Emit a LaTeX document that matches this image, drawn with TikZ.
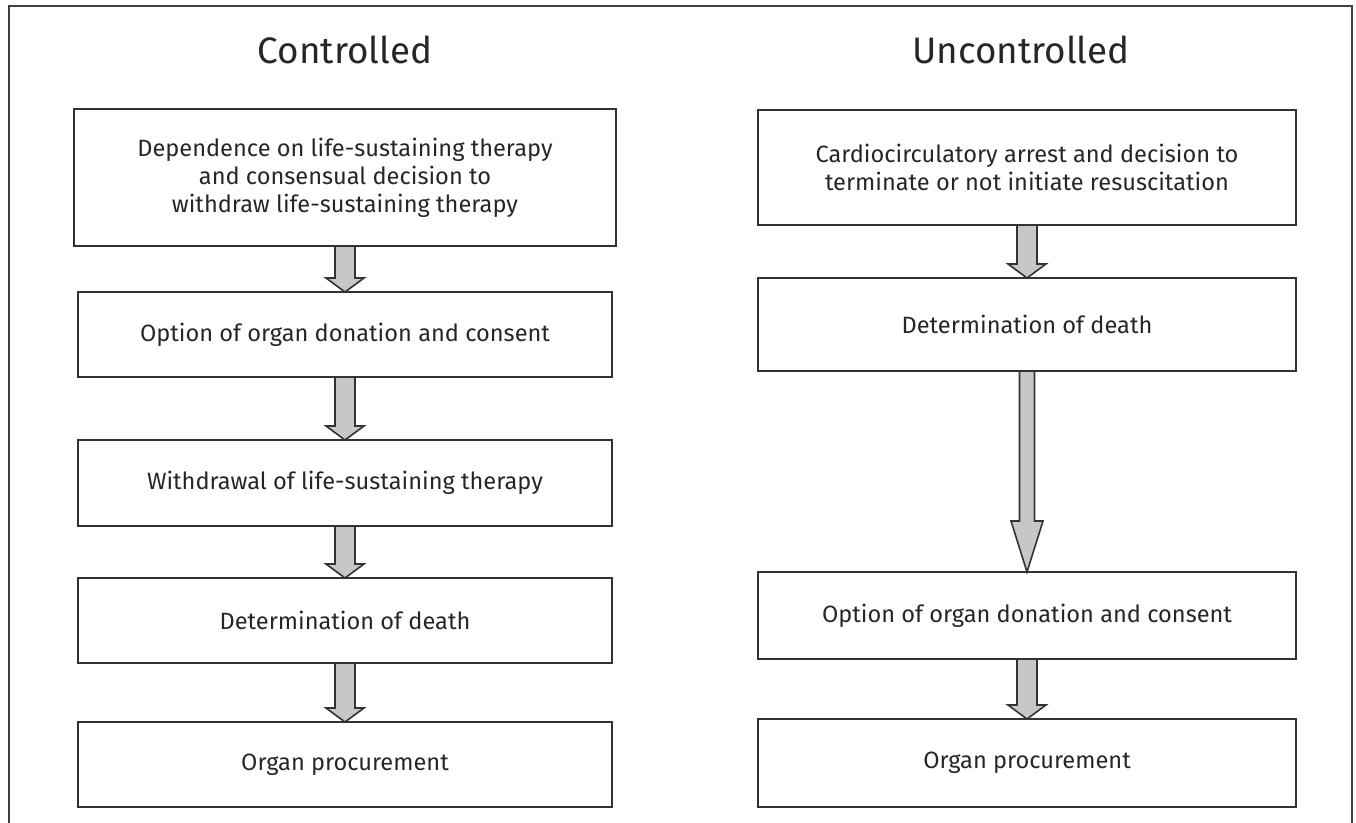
\documentclass[tikz,border=0pt]{standalone}
\usepackage{fontspec}
\setmainfont{Fira Sans}
\usetikzlibrary{calc}
\begin{document}
\begin{tikzpicture}[x=0.5pt,y=-0.5pt,
  box/.style={draw=black!80,line width=0.9pt,inner sep=0pt,outer sep=0pt,
    minimum width=267pt,minimum height=42.5pt,align=center,
    font=\fontsize{11.8}{14}\selectfont,text=black!85},
  title/.style={font=\fontsize{18.4}{22}\selectfont,text=black!85},
  blockarrow/.style={draw=black!80,line width=0.8pt,fill=black!22,line join=miter}]
\useasboundingbox (0,0) rectangle (1356,823);
\draw[black!75,line width=0.7pt] (9,823) -- (9,6) -- (1352,6) -- (1352,823); % frame, open at the bottom
\node[title] (tc) at (345,50) {Controlled};
\node[title] (tu) at (1021,50) {Uncontrolled};
% controlled
\node[box,minimum width=271pt,minimum height=68.5pt] (c1) at (345,177.5)
  {Dependence on life-sustaining therapy\\and consensual decision to\\withdraw life-sustaining therapy};
\node[box] (c2) at (345,334.5) {Option of organ donation and consent};
\node[box,minimum height=43pt] (c3) at (345,483) {Withdrawal of life-sustaining therapy};
\node[box] (c4) at (345,620.5) {Determination of death};
\node[box] (c5) at (345,764.5) {Organ procurement};
% uncontrolled
\node[box,minimum width=269pt,minimum height=57.5pt] (u1) at (1027,167.5)
  {Cardiocirculatory arrest and decision to\\terminate or not initiate resuscitation};
\node[box,minimum width=269pt,minimum height=46.5pt] (u2) at (1027,324.5) {Determination of death};
\node[box,minimum width=269pt,minimum height=43.5pt] (u3) at (1027,615.5) {Option of organ donation and consent};
\node[box,minimum width=269pt,minimum height=44pt] (u4) at (1027,763) {Organ procurement};
\foreach \a/\b in {c1/c2,c2/c3,c3/c4,c4/c5,u1/u2,u3/u4} % short arrows
\draw[blockarrow] let \p1=(\a.south), \p2=(\b.north) in
  (\x1-5pt,\y1) -- (\x1-5pt,\y2+7pt) -- (\x1-9.5pt,\y2+7pt) -- (\x1,\y2)
  -- (\x1+9.5pt,\y2+7pt) -- (\x1+5pt,\y2+7pt) -- (\x1+5pt,\y1) -- cycle;
\draw[blockarrow] let \p1=(u2.south), \p2=(u3.north) in % long arrow
  (\x1-3.75pt,\y1) -- (\x1-3.75pt,\y2+25.5pt) -- (\x1-8pt,\y2+25.5pt) -- (\x1,\y2)
  -- (\x1+8pt,\y2+25.5pt) -- (\x1+3.75pt,\y2+25.5pt) -- (\x1+3.75pt,\y1) -- cycle;
\end{tikzpicture}
\end{document}
